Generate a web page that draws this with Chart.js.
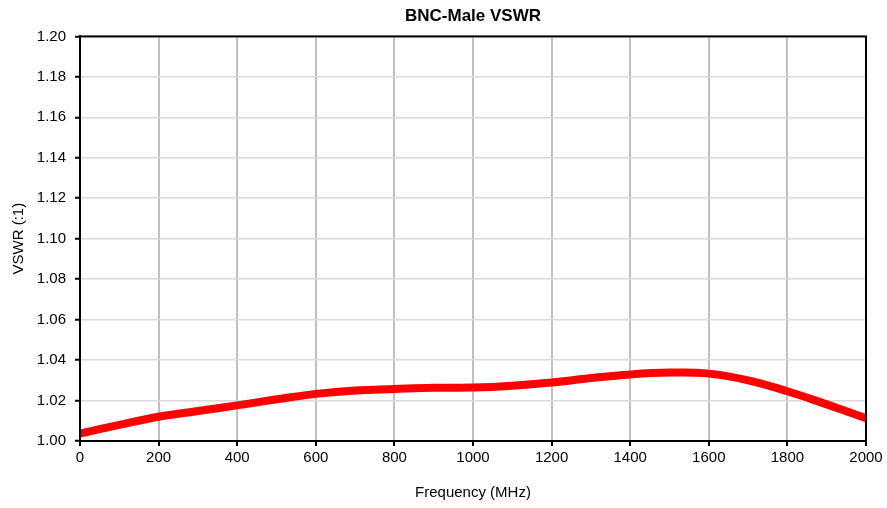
<!DOCTYPE html>
<html>
<head>
<meta charset="utf-8">
<script src="https://cdn.jsdelivr.net/npm/chart.js@4/dist/chart.umd.min.js"></script>
<style>
  html, body { margin: 0; padding: 0; background: #fff; }
  #wrap { width: 887px; height: 508px; position: relative; }
</style>
</head>
<body>
<div id="wrap"><canvas id="c"></canvas></div>
<script>
const chartTitle = 'BNC-Male VSWR';
const xTitle = 'Frequency (MHz)';
const yTitle = 'VSWR (:1)';
const frequencies = [0, 100, 200, 300, 400, 500, 600, 700, 800, 900, 1000,
                     1100, 1200, 1300, 1400, 1500, 1600, 1700, 1800, 1900, 2000];
const vswr = [1.0037, 1.0080, 1.0120, 1.0148, 1.0176, 1.0206, 1.0233, 1.0250, 1.0257, 1.0263, 1.0264,
              1.0273, 1.0289, 1.0311, 1.0329, 1.0338, 1.0333, 1.0300, 1.0246, 1.0181, 1.0113];
const xMin = 0, xMax = 2000, xStep = 200;
const yMin = 1.00, yMax = 1.20, yStep = 0.02;

const points = frequencies.map((f, i) => ({ x: f, y: vswr[i] }));

const framePlugin = {
  id: 'frame',
  afterDatasetsDraw(chart) {
    const a = chart.chartArea, ctx = chart.ctx;
    ctx.save();
    ctx.strokeStyle = '#000';
    ctx.lineWidth = 2;
    ctx.strokeRect(a.left, a.top, a.right - a.left, a.bottom - a.top);
    ctx.restore();
  }
};

Chart.defaults.font.family = '"Liberation Sans", Arial, sans-serif';
Chart.defaults.color = '#000';

new Chart(document.getElementById('c'), {
  type: 'line',
  data: {
    datasets: [{
      data: points,
      borderColor: '#ff0000',
      backgroundColor: '#ff0000',
      borderWidth: 8,
      pointRadius: 0,
      tension: 0.4,
      fill: false
    }]
  },
  options: {
    responsive: true,
    maintainAspectRatio: false,
    animation: false,
    layout: { padding: { left: 0, right: 21, top: 0, bottom: 0 } },
    plugins: {
      legend: { display: false },
      tooltip: { enabled: false },
      title: {
        display: true,
        text: chartTitle,
        fullSize: false,
        font: { size: 17, weight: 'bold' },
        color: '#000',
        padding: { top: 6, bottom: 10 }
      }
    },
    scales: {
      x: {
        type: 'linear',
        min: xMin, max: xMax,
        afterFit(s) { s.height = 67; },
        ticks: { stepSize: xStep, font: { size: 15 }, color: '#000', padding: 3, maxRotation: 0,
                 callback: (v) => String(v) },
        grid: { color: '#c0c0c0', lineWidth: 2, tickColor: '#000', tickLength: 5, tickWidth: 2, drawTicks: true },
        border: { display: true, color: '#000', width: 2 },
        title: { display: true, text: xTitle, font: { size: 15 }, color: '#000', padding: { top: 10, bottom: 6 } }
      },
      y: {
        type: 'linear',
        min: yMin, max: yMax,
        afterFit(s) { s.width = 80; },
        ticks: {
          stepSize: yStep, font: { size: 15 }, color: '#000', padding: 9,
          callback: (v) => Number(v).toFixed(2)
        },
        grid: { color: '#d9d9d9', lineWidth: 1.5, tickColor: '#000', tickLength: 5, tickWidth: 2, drawTicks: true },
        border: { display: true, color: '#000', width: 2 },
        title: { display: true, text: yTitle, font: { size: 15 }, color: '#000', padding: { top: 10, bottom: 4 } }
      }
    }
  },
  plugins: [framePlugin]
});
</script>
</body>
</html>
